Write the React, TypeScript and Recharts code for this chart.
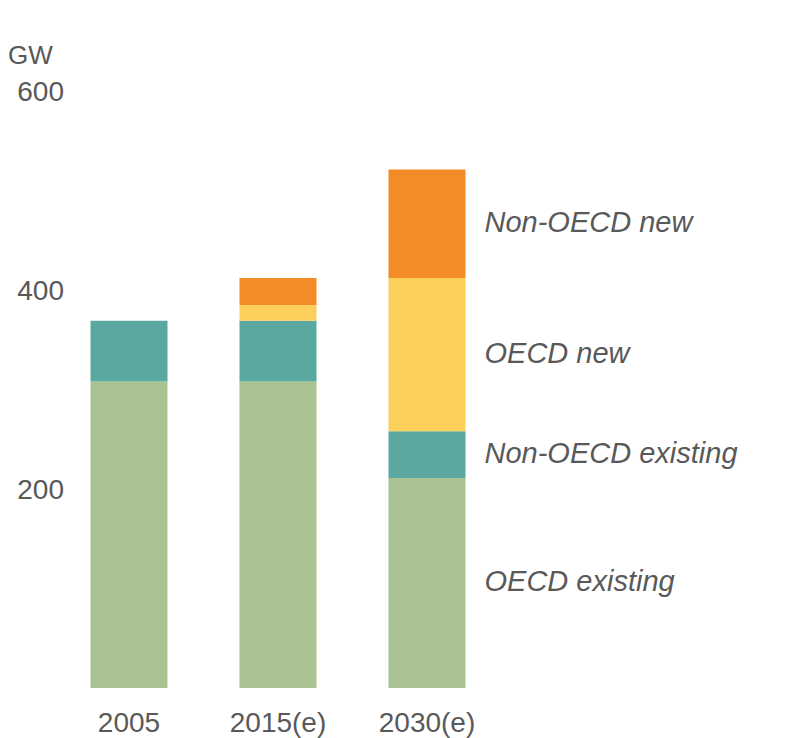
import React from "react";
import { BarChart, Bar, XAxis, YAxis, Label, LabelList } from "recharts";

const years = ["2005", "2015(e)", "2030(e)"];
const oecdExisting = [308, 308, 211];
const nonOecdExisting = [61, 61, 47];
const oecdNew = [0, 16, 154];
const nonOecdNew = [0, 27, 109];
const yTicks = [200, 400, 600];

const series = [
  { key: "oecdExisting", name: "OECD existing", color: "#A8C292", values: oecdExisting },
  { key: "nonOecdExisting", name: "Non-OECD existing", color: "#5AA8A0", values: nonOecdExisting },
  { key: "oecdNew", name: "OECD new", color: "#FCCF5B", values: oecdNew },
  { key: "nonOecdNew", name: "Non-OECD new", color: "#F28C26", values: nonOecdNew },
];

const data = years.map((year, i) => ({
  year,
  oecdExisting: oecdExisting[i],
  nonOecdExisting: nonOecdExisting[i],
  oecdNew: oecdNew[i],
  nonOecdNew: nonOecdNew[i],
}));

const FONT = "'Liberation Sans', Arial, sans-serif";
const TEXT = "#595959";

const YTick = (props: any) => (
  <text x={64} y={props.y} textAnchor="end" dominantBaseline="central"
    fontFamily={FONT} fontSize={28} fill={TEXT}>
    {props.payload.value}
  </text>
);

const XTick = (props: any) => (
  <text x={props.x} y={722} textAnchor="middle" dominantBaseline="central"
    fontFamily={FONT} fontSize={28} fill={TEXT}>
    {props.payload.value}
  </text>
);

// label each series once, beside the last (2030) bar
const seriesLabel = (name: string, values: number[]) => (props: any) => {
  if (Number(props.value) !== values[values.length - 1]) return null;
  return (
    <text x={Number(props.x) + Number(props.width) + 19}
      y={Number(props.y) + Number(props.height) / 2 - 2}
      dominantBaseline="central" fontFamily={FONT} fontSize={29}
      fontStyle="italic" fill={TEXT}>
      {name}
    </text>
  );
};

export default function App() {
  return (
    <div style={{ position: "absolute", left: 0, top: 0 }}>
      <BarChart width={790} height={738} data={data}
        margin={{ top: 91, right: 288.5, bottom: 0, left: 0.5 }}>
        <XAxis dataKey="year" height={50} axisLine={false} tickLine={false} tick={XTick} />
        <YAxis width={54} domain={[0, 600]} ticks={yTicks} axisLine={false}
          tickLine={false} tick={YTick} interval={0}>
          <Label content={() => (
            <text x={8} y={55} dominantBaseline="central" fontFamily={FONT}
              fontSize={26} fill={TEXT}>GW</text>
          )} />
        </YAxis>
        {series.map((s) => (
          <Bar key={s.key} dataKey={s.key} stackId="a" fill={s.color}
            barSize={77} isAnimationActive={false}>
            <LabelList dataKey={s.key} content={seriesLabel(s.name, s.values)} />
          </Bar>
        ))}
      </BarChart>
    </div>
  );
}
